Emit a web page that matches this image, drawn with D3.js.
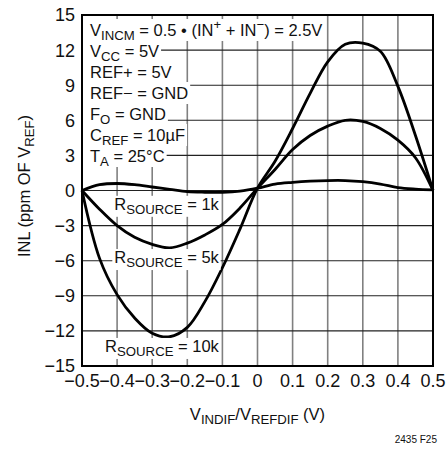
<!DOCTYPE html>
<html>
<head>
<meta charset="utf-8">
<script src="https://cdn.jsdelivr.net/npm/d3@7"></script>
<style>
  body { margin: 0; background: #fff; }
  svg text { font-family: "Liberation Sans Narrow", "Arial Narrow", sans-serif; fill: #111; }
</style>
</head>
<body>
<svg id="chart" width="448" height="450"></svg>
<script>
// values
const xValues = [-0.5, -0.45, -0.4, -0.35, -0.3, -0.25, -0.2, -0.15, -0.1, -0.05, 0,
                 0.05, 0.1, 0.15, 0.2, 0.25, 0.3, 0.35, 0.4, 0.45, 0.5];
const inl1k  = [0, 0.5, 0.6, 0.5, 0.3, 0.1, -0.1, -0.15, -0.15, -0.05, 0.2,
                0.55, 0.7, 0.8, 0.85, 0.85, 0.75, 0.55, 0.25, 0.12, 0.05];
const inl5k  = [0, -1.6, -3.0, -4.0, -4.6, -4.9, -4.5, -3.8, -2.9, -1.5, 0.2,
                1.8, 3.5, 4.7, 5.5, 6.0, 5.9, 5.3, 4.3, 2.8, 0];
const inl10k = [0, -5.8, -8.9, -10.9, -12.2, -12.5, -11.7, -9.5, -6.6, -3.3, 0.2,
                2.5, 5.3, 8.3, 11.0, 12.5, 12.6, 11.9, 8.9, 4.7, 0];

const xTicks = [-0.5, -0.4, -0.3, -0.2, -0.1, 0, 0.1, 0.2, 0.3, 0.4, 0.5];
const xTickLabels = ['\u22120.5', '\u22120.4', '\u22120.3', '\u22120.2', '\u22120.1', '0',
                     '0.1', '0.2', '0.3', '0.4', '0.5'];
const yTicks = [-15, -12, -9, -6, -3, 0, 3, 6, 9, 12, 15];
const yTickLabels = ['\u221215', '\u221212', '\u22129', '\u22126', '\u22123', '0',
                     '3', '6', '9', '12', '15'];

// each note is a list of [text, 'sub' | 'sup' | '']
const notes = [
  [['V', ''], ['INCM', 'sub'], [' = 0.5 \u2022 (IN', ''], ['+', 'sup'], [' + IN', ''], ['\u2212', 'sup'], [') = 2.5V', '']],
  [['V', ''], ['CC', 'sub'], [' = 5V', '']],
  [['REF+ = 5V', '']],
  [['REF\u2212 = GND', '']],
  [['F', ''], ['O', 'sub'], [' = GND', '']],
  [['C', ''], ['REF', 'sub'], [' = 10\u00b5F', '']],
  [['T', ''], ['A', 'sub'], [' = 25\u00b0C', '']]
];

const series = [
  {name: '1k', values: inl1k, label: [['R', ''], ['SOURCE', 'sub'], [' = 1k', '']]},
  {name: '5k', values: inl5k, label: [['R', ''], ['SOURCE', 'sub'], [' = 5k', '']]},
  {name: '10k', values: inl10k, label: [['R', ''], ['SOURCE', 'sub'], [' = 10k', '']]}
];
// anchor (end of text, baseline) of the series labels, in data units
const labelAnchors = {'1k': [-0.11, -1.65], '5k': [-0.11, -6.2], '10k': [-0.11, -13.8]};

const svg = d3.select('svg#chart');
const margin = {top: 15, right: 15, bottom: 84, left: 82};
const width = +svg.attr('width') - margin.left - margin.right;
const height = +svg.attr('height') - margin.top - margin.bottom;

const x = d3.scaleLinear().domain([-0.5, 0.5]).range([margin.left, margin.left + width]);
const y = d3.scaleLinear().domain([-15, 15]).range([margin.top + height, margin.top]);

function richText (sel, parts, size) {
  let shift = 0;
  parts.forEach(([t, kind]) => {
    let target = kind === 'sub' ? 4 : kind === 'sup' ? -7 : 0;
    sel.append('tspan')
      .attr('dy', target - shift)
      .attr('font-size', kind ? size * 0.8 : size)
      .text(t);
    shift = target;
  });
}

// grid
const grid = svg.append('g');
grid.selectAll('line.v').data(xTicks.slice(1, -1)).join('line')
  .attr('x1', d => x(d)).attr('x2', d => x(d))
  .attr('y1', y(15)).attr('y2', y(-15))
  .attr('stroke', '#808080').attr('stroke-width', 1.6);
grid.selectAll('line.h').data(yTicks.slice(1, -1)).join('line')
  .attr('x1', x(-0.5)).attr('x2', x(0.5))
  .attr('y1', d => y(d)).attr('y2', d => y(d))
  .attr('stroke', '#222').attr('stroke-width', 1.1);

// curves
const line = d3.line()
  .x((d, i) => x(xValues[i]))
  .y(d => y(d))
  .curve(d3.curveCatmullRom.alpha(0.5));

svg.append('g').selectAll('path').data(series).join('path')
  .attr('d', d => line(d.values))
  .attr('fill', 'none')
  .attr('stroke', '#000')
  .attr('stroke-width', 2.8);

// conditions block, white behind each row (rects first so subscripts stay visible)
const noteBg = svg.append('g');
const noteG = svg.append('g');
notes.forEach((parts, i) => {
  const base = margin.top + 21 + 21 * i;
  const t = noteG.append('text').attr('x', margin.left + 8).attr('y', base);
  richText(t, parts, 16.5);
  const bb = t.node().getBBox();
  noteBg.append('rect').attr('fill', '#fff')
    .attr('x', margin.left + 1).attr('y', base - 17)
    .attr('width', bb.x + bb.width + 2 - margin.left - 1).attr('height', 22);
});

// series labels
const labG = svg.append('g');
series.forEach(s => {
  const [ax, ay] = labelAnchors[s.name];
  const rect = labG.append('rect').attr('fill', '#fff');
  const t = labG.append('text').attr('x', x(ax)).attr('y', y(ay)).attr('text-anchor', 'end');
  richText(t, s.label, 16.5);
  const bb = t.node().getBBox();
  rect.attr('x', bb.x - 2).attr('y', bb.y + 1).attr('width', bb.width + 3).attr('height', bb.height - 1);
});

// frame
svg.append('rect')
  .attr('x', x(-0.5)).attr('y', y(15))
  .attr('width', width).attr('height', height)
  .attr('fill', 'none').attr('stroke', '#000').attr('stroke-width', 2);

// tick labels
svg.append('g').selectAll('text').data(yTicks).join('text')
  .attr('x', margin.left - 7).attr('y', d => y(d)).attr('dy', '0.36em')
  .attr('text-anchor', 'end').attr('font-size', 18)
  .text((d, i) => yTickLabels[i]);

svg.append('g').selectAll('text').data(xTicks).join('text')
  .attr('x', d => x(d)).attr('y', y(-15) + 21)
  .attr('text-anchor', 'middle').attr('font-size', 18)
  .text((d, i) => xTickLabels[i]);

// axis titles
const xt = svg.append('text')
  .attr('x', x(0)).attr('y', 420).attr('text-anchor', 'middle');
richText(xt, [['V', ''], ['INDIF', 'sub'], ['/V', ''], ['REFDIF', 'sub'], [' (V)', '']], 16.5);

const yt = svg.append('text')
  .attr('transform', 'translate(30,186) rotate(-90)')
  .attr('text-anchor', 'middle');
richText(yt, [['INL (ppm OF V', ''], ['REF', 'sub'], [')', '']], 16.5);

svg.append('text')
  .attr('x', 437).attr('y', 443).attr('text-anchor', 'end')
  .attr('font-size', 10)
  .text('2435 F25');
</script>
</body>
</html>
